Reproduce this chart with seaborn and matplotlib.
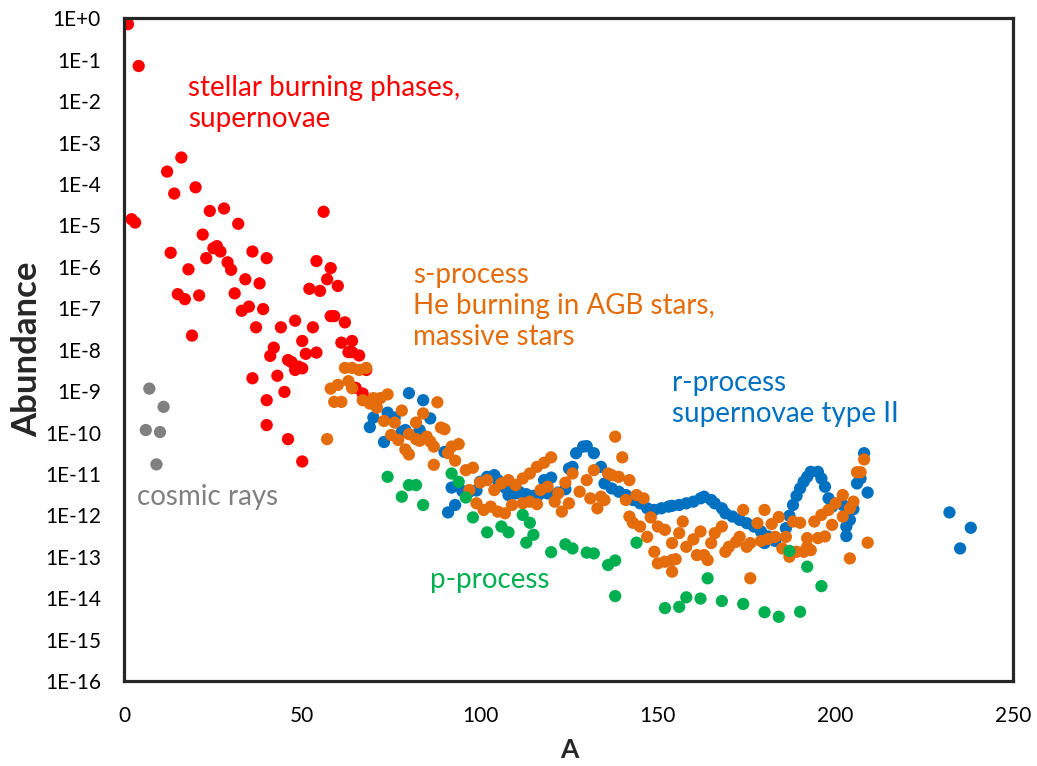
import numpy as np
import pandas as pd
import matplotlib
matplotlib.use("Agg")
import matplotlib.pyplot as plt
import seaborn as sns
from matplotlib.ticker import FixedLocator, NullFormatter

# ---------------- data: (mass number A, log10 abundance) -------------
cosmic_pts = [(6, -9.94), (7, -8.94), (9, -10.77), (10, -9.99), (11, -9.38)]

stellar_pts = [(1, -0.14), (2, -4.85), (3, -4.93), (4, -1.15), (12, -3.70), (13, -5.66), (14, -4.23),
               (15, -6.66), (16, -3.36), (17, -6.78), (18, -6.06), (19, -7.66), (20, -4.08), (21, -6.69),
               (22, -5.22), (23, -5.79), (24, -4.65), (25, -5.55), (26, -5.50), (27, -5.63), (28, -4.59),
               (29, -5.89), (30, -6.07), (31, -6.64), (32, -4.96), (33, -7.06), (34, -6.30), (35, -6.96),
               (36, -5.63), (36, -8.69), (37, -7.46), (38, -6.40), (39, -7.02), (40, -5.79), (40, -9.22),
               (40, -9.82), (41, -8.15), (42, -7.95), (43, -8.63), (44, -7.46), (45, -9.02), (46, -8.25),
               (46, -10.16), (47, -8.30), (48, -7.30), (48, -8.49), (49, -8.41), (50, -8.45), (50, -7.79),
               (50, -10.70), (51, -8.10), (52, -6.53), (53, -7.46), (54, -5.86), (54, -8.07), (55, -6.58),
               (56, -4.67), (57, -6.30), (58, -6.03), (58, -7.19), (59, -7.19), (60, -6.46), (61, -7.83),
               (62, -7.34), (63, -8.06), (64, -7.79), (64, -8.06), (65, -8.92), (66, -8.14), (67, -9.06),
               (68, -8.49)]

r_pts = [(69, -9.87), (70, -9.64), (73, -10.23), (74, -9.52), (76, -9.64), (78, -9.98), (79, -9.94),
         (80, -9.05), (83, -9.94), (84, -9.22), (86, -9.66), (90, -10.47), (91, -11.93), (92, -11.33),
         (93, -11.75), (95, -11.41), (97, -11.43), (99, -11.40), (100, -11.19), (102, -11.07),
         (104, -11.03), (105, -11.15), (107, -11.33), (108, -11.51), (109, -11.39), (110, -11.47),
         (111, -11.43), (113, -11.49), (115, -11.53), (116, -11.55), (117, -11.47), (118, -11.15),
         (119, -11.47), (120, -11.09), (121, -11.51), (122, -11.45), (124, -11.37), (125, -10.87),
         (126, -10.83), (127, -10.50), (129, -10.34), (130, -10.33), (132, -10.50), (134, -10.83),
         (135, -11.23), (137, -11.35), (139, -11.43), (141, -11.51), (143, -11.63), (145, -11.71),
         (147, -11.83), (149, -11.87), (151, -11.83), (153, -11.79), (154, -11.77), (156, -11.75),
         (158, -11.71), (160, -11.67), (162, -11.59), (163, -11.55), (165, -11.63), (166, -11.71),
         (168, -11.83), (169, -11.95), (171, -12.03), (173, -12.11), (175, -12.19), (177, -12.27),
         (179, -12.39), (180, -12.67), (181, -12.51), (183, -12.62), (186, -12.31), (187, -12.01),
         (188, -11.75), (189, -11.53), (190, -11.35), (191, -11.19), (192, -11.07), (193, -10.95),
         (195, -10.95), (196, -11.11), (197, -11.31), (198, -11.59), (199, -11.79), (202, -11.75),
         (203, -12.27), (203, -12.50), (204, -12.11), (205, -11.85), (206, -11.23), (207, -11.11),
         (208, -10.50), (209, -11.45), (232, -11.93), (235, -12.80), (238, -12.30)]

s_pts = [(57, -10.16), (58, -8.94), (59, -9.26), (60, -8.85), (61, -9.26), (62, -8.44), (63, -8.76),
         (64, -8.44), (64, -8.93), (66, -8.49), (67, -9.22), (68, -8.44), (69, -9.30), (70, -9.17),
         (71, -9.40), (72, -9.17), (73, -9.72), (74, -9.08), (75, -10.06), (76, -9.76), (77, -10.18),
         (78, -9.47), (79, -10.41), (80, -10.04), (80, -10.53), (82, -9.76), (82, -10.16), (83, -10.20),
         (84, -9.54), (85, -10.10), (86, -10.22), (87, -10.34), (87, -10.78), (88, -9.27), (89, -9.88),
         (90, -9.92), (91, -10.50), (92, -10.34), (93, -10.68), (94, -10.28), (96, -10.91), (97, -11.39),
         (98, -10.85), (99, -11.71), (100, -11.21), (101, -11.87), (102, -11.15), (103, -11.79),
         (104, -11.39), (105, -11.91), (106, -11.23), (107, -11.95), (108, -11.15), (109, -11.75),
         (110, -11.27), (112, -11.11), (112, -11.71), (114, -10.99), (114, -11.67), (116, -10.83),
         (116, -11.73), (117, -11.39), (118, -10.73), (119, -11.31), (120, -10.60), (121, -11.67),
         (122, -11.47), (123, -11.91), (124, -11.21), (125, -11.71), (126, -10.99), (128, -11.43),
         (130, -11.15), (131, -11.59), (132, -10.91), (133, -11.83), (134, -11.55), (135, -11.63),
         (136, -10.99), (137, -11.03), (138, -10.10), (139, -11.07), (140, -10.60), (141, -11.63),
         (142, -11.15), (142, -12.03), (143, -12.18), (144, -11.51), (145, -12.27), (146, -11.59),
         (147, -12.52), (148, -12.05), (149, -12.88), (150, -12.27), (150, -13.16), (152, -12.35),
         (152, -13.12), (154, -12.67), (154, -13.08), (154, -13.36), (155, -13.06), (156, -12.43),
         (157, -12.15), (158, -12.76), (160, -12.58), (161, -12.96), (162, -12.39), (163, -12.96),
         (164, -13.08), (165, -12.67), (166, -12.43), (168, -12.27), (169, -12.88), (170, -12.76),
         (172, -12.64), (173, -12.52), (174, -11.87), (175, -12.76), (176, -12.67), (176, -13.52),
         (178, -12.19), (179, -12.62), (180, -11.87), (181, -12.57), (182, -12.21), (183, -12.52),
         (184, -12.04), (185, -12.80), (186, -12.52), (187, -13.00), (188, -12.15), (189, -12.88),
         (190, -12.18), (191, -12.88), (192, -12.76), (192, -12.55), (193, -12.84), (194, -12.15),
         (195, -12.55), (196, -11.99), (197, -12.51), (198, -11.87), (199, -12.23), (200, -11.71),
         (202, -12.03), (202, -11.51), (204, -11.83), (204, -13.04), (205, -11.67), (206, -10.96),
         (207, -10.96), (208, -10.65), (209, -12.66)]

p_pts = [(74, -11.07), (78, -11.55), (80, -11.27), (82, -11.27), (84, -11.75), (92, -10.99),
         (94, -11.19), (96, -11.57), (98, -12.05), (102, -12.41), (106, -12.27), (108, -12.41),
         (112, -11.99), (113, -12.66), (114, -12.18), (115, -12.47), (120, -12.89), (124, -12.70),
         (126, -12.80), (130, -12.90), (132, -12.92), (136, -13.20), (138, -13.09), (138, -13.95),
         (144, -12.66), (152, -14.24), (156, -14.21), (158, -13.98), (162, -14.01), (164, -13.52),
         (168, -14.07), (174, -14.14), (180, -14.34), (184, -14.45), (187, -12.86), (190, -14.33),
         (192, -13.24), (196, -13.71)]

series_names = ["cosmic rays", "stellar", "r-process", "s-process", "p-process"]
series_colors = ["#808080", "#FF0000", "#0070C0", "#E46C0A", "#00B050"]

y_tick_labels = ["1E+0", "1E-1", "1E-2", "1E-3", "1E-4", "1E-5", "1E-6", "1E-7", "1E-8",
                 "1E-9", "1E-10", "1E-11", "1E-12", "1E-13", "1E-14", "1E-15", "1E-16"]
x_ticks = [0, 50, 100, 150, 200, 250]

# ---------------- build table (draw order: gray, red, blue, orange, green) -------------
frames = []
for name, pts in zip(series_names, [cosmic_pts, stellar_pts, r_pts, s_pts, p_pts]):
    arr = np.array(pts, dtype=float)
    frames.append(pd.DataFrame({"A": arr[:, 0], "Abundance": 10.0 ** arr[:, 1], "series": name}))
df = pd.concat(frames, ignore_index=True)

sns.set_style("white")
plt.rcParams["font.family"] = ["Lato", "DejaVu Sans"]

fig = plt.figure(figsize=(10.37, 7.66), dpi=100)
ax = fig.add_axes([0.120, 0.111, 0.8573, 0.865])

sns.scatterplot(data=df, x="A", y="Abundance", hue="series", hue_order=series_names,
                palette=series_colors, s=78, linewidth=0, edgecolor="none", legend=False, ax=ax)

ax.set_yscale("log")
ax.set_xlim(0, 250)
ax.set_ylim(1e-16, 1.0)

yt = [10.0 ** (-i) for i in range(len(y_tick_labels))]
ax.yaxis.set_major_locator(FixedLocator(yt))
ax.set_yticklabels(y_tick_labels)
ax.yaxis.set_minor_locator(FixedLocator([m * 10.0 ** (-i) for i in range(1, 17) for m in range(2, 10)]))
ax.yaxis.set_minor_formatter(NullFormatter())
ax.set_xticks(x_ticks)
ax.set_xticklabels([str(v) for v in x_ticks])

for sp in ax.spines.values():
    sp.set_color("#262626")
    sp.set_linewidth(2.3)

ax.tick_params(axis="both", which="major", direction="in", length=6, width=1.5,
               color="#404040", labelsize=15, labelcolor="black")
ax.tick_params(axis="y", which="major", pad=17)
ax.tick_params(axis="y", which="minor", direction="in", length=4, width=1.0, color="#404040")
ax.tick_params(axis="x", which="major", pad=18)
ax.tick_params(top=False, right=False, which="both")

ax.set_xlabel("A", fontsize=19, fontweight="bold", labelpad=9)
ax.set_ylabel("Abundance", fontsize=25, fontweight="bold", labelpad=1)

txt_kw = dict(transform=ax.transAxes, fontsize=20, ha="left", va="center", linespacing=1.25)
ax.text(0.0714, 0.872, "stellar burning phases,\nsupernovae", color="#FF0000", **txt_kw)
ax.text(0.3245, 0.566, "s-process\nHe burning in AGB stars,\nmassive stars", color="#E46C0A", **txt_kw)
ax.text(0.616, 0.426, "r-process\nsupernovae type II", color="#0070C0", **txt_kw)
ax.text(0.014, 0.278, "cosmic rays", color="#808080", **txt_kw)
ax.text(0.344, 0.152, "p-process", color="#00B050", **txt_kw)

fig.savefig("out.png", dpi=100)
